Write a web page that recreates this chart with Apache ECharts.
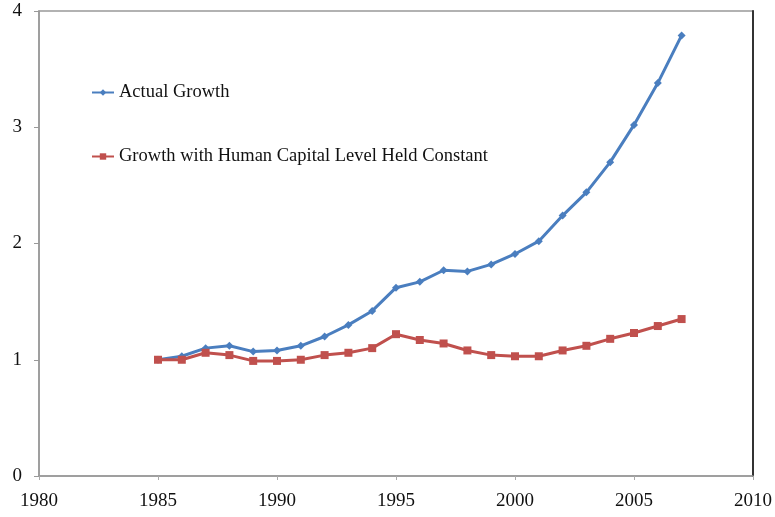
<!DOCTYPE html>
<html><head><meta charset="utf-8">
<script src="https://cdn.jsdelivr.net/npm/echarts@6/dist/echarts.min.js"></script>
<style>html,body{margin:0;padding:0;background:#fff}#c{width:775px;height:517px}</style>
</head><body><div id="c"></div>
<script>
const years = [1985,1986,1987,1988,1989,1990,1991,1992,1993,1994,1995,1996,1997,1998,1999,2000,2001,2002,2003,2004,2005,2006,2007];
const actualGrowth = [1.00,1.03,1.10,1.12,1.07,1.08,1.12,1.20,1.30,1.42,1.62,1.67,1.77,1.76,1.82,1.91,2.02,2.24,2.44,2.70,3.02,3.38,3.79];
const constantHC = [1.00,1.00,1.06,1.04,0.99,0.99,1.00,1.04,1.06,1.10,1.22,1.17,1.14,1.08,1.04,1.03,1.03,1.08,1.12,1.18,1.23,1.29,1.35];
const seriesNames = ['Actual Growth','Growth with Human Capital Level Held Constant'];
const xTicks = {min:1980,max:2010,interval:5};
const yTicks = {min:0,max:4,interval:1};

const font = '"Liberation Serif", "DejaVu Serif", serif';
const chart = echarts.init(document.getElementById('c'));
chart.setOption({
  animation:false,
  backgroundColor:'#fff',
  grid:{left:39,right:22,top:11,bottom:41,show:true,borderColor:'#999',borderWidth:1.5},
  legend:{
    orient:'vertical', left:86, top:78, itemGap:45, itemWidth:22, itemHeight:8,
    textStyle:{fontFamily:font,fontSize:18.5,color:'#111'},
    data:seriesNames
  },
  xAxis:{type:'value',min:xTicks.min,max:xTicks.max,interval:xTicks.interval,
    axisLine:{show:true,onZero:false,lineStyle:{color:'#999',width:1.5}},
    axisTick:{show:true,inside:false,length:4,lineStyle:{color:'#aaa'}},
    splitLine:{show:false},
    axisLabel:{fontFamily:font,fontSize:19,color:'#111',margin:16,formatter:v=>String(v)}},
  yAxis:[{type:'value',min:yTicks.min,max:yTicks.max,interval:yTicks.interval,
    axisLine:{show:true,lineStyle:{color:'#999',width:1.5}},
    axisTick:{show:true,length:5,lineStyle:{color:'#999'}},
    splitLine:{show:false},
    axisLabel:{fontFamily:font,fontSize:19,color:'#111',margin:17}},
    {type:'value',position:'right',min:yTicks.min,max:yTicks.max,
    axisLine:{show:true,lineStyle:{color:'#333',width:2}},
    axisTick:{show:false},axisLabel:{show:false},splitLine:{show:false}}],
  series:[
    {name:seriesNames[0],type:'line',data:years.map((y,i)=>[y,actualGrowth[i]]),
     symbol:'diamond',symbolSize:8,
     lineStyle:{color:'#4a7ebf',width:3},itemStyle:{color:'#4a7ebf'}},
    {name:seriesNames[1],type:'line',data:years.map((y,i)=>[y,constantHC[i]]),
     symbol:'rect',symbolSize:8,
     lineStyle:{color:'#c0504d',width:3},itemStyle:{color:'#c0504d'}}
  ]
});
</script></body></html>
